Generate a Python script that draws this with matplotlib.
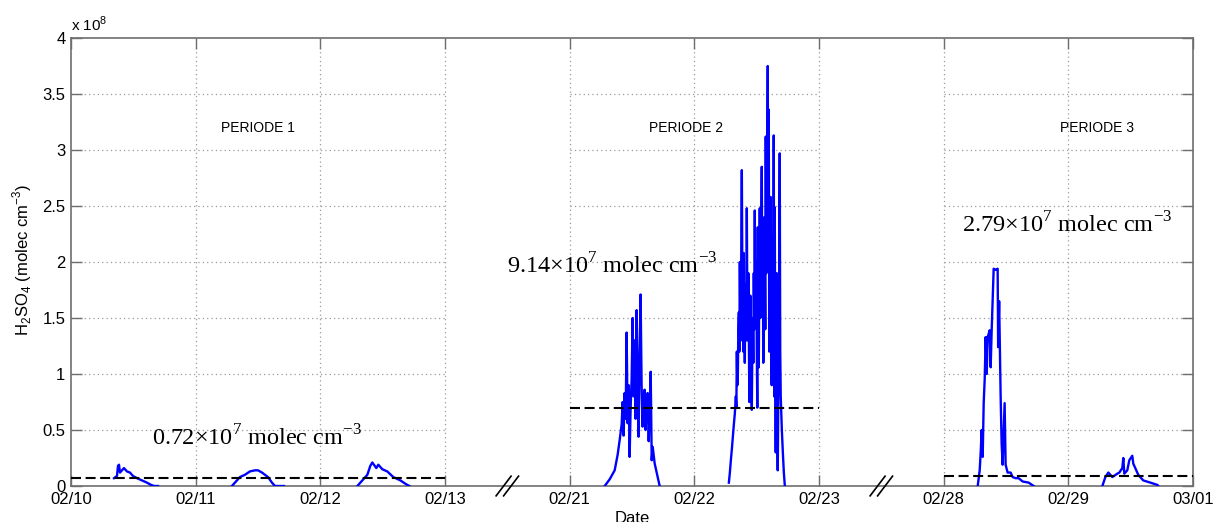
import numpy as np
import matplotlib
matplotlib.use('Agg')
import matplotlib.pyplot as plt

# --- CONFIGURATION ---
OUT_PATH = 'out.png'
BLUE = '#0000ff'
GRID = '#9a9a9a'
AXIS = '#6e6e6e'

plt.rcParams['font.family'] = ['Liberation Sans', 'DejaVu Sans']
plt.rcParams['mathtext.fontset'] = 'custom'
plt.rcParams['mathtext.rm'] = 'Liberation Serif'
plt.rcParams['mathtext.sf'] = 'Liberation Sans'

# compressed date axis: each shown day is one unit, the gaps are cut out
TICK_DATES = ['02/10', '02/11', '02/12', '02/13', '02/21', '02/22', '02/23',
              '02/28', '02/29', '03/01']
BREAKS = [('02/13', '02/21'), ('02/23', '02/28')]
PERIODS = [('02/10', '02/13'), ('02/21', '02/23'), ('02/28', '03/01')]
PERIOD_NAMES = ['PERIODE 1', 'PERIODE 2', 'PERIODE 3']

# mean level drawn per period (1e8 molec cm-3) and the printed value (1e7)
MEAN_LEVEL = [0.075, 0.70, 0.09]
MEAN_TEXT = ['0.72', '9.14', '2.79']

# H2SO4 events: fraction of the day and concentration (1e8 molec cm-3)
d0210_t = [0.345, 0.369, 0.377, 0.385, 0.393, 0.409, 0.425, 0.449, 0.473,
           0.497, 0.529, 0.569, 0.609, 0.642, 0.666, 0.698]
d0210_v = [0.07, 0.09, 0.18, 0.19, 0.12, 0.14, 0.16, 0.13, 0.12,
           0.09, 0.07, 0.05, 0.03, 0.01, 0.0, 0.0]

d0211_t = [0.291, 0.355, 0.395, 0.435, 0.476, 0.500, 0.532, 0.580, 0.612,
           0.636, 0.708]
d0211_v = [0.0, 0.08, 0.10, 0.13, 0.14, 0.14, 0.12, 0.08, 0.03,
           0.0, 0.0]

d0212_t = [0.297, 0.337, 0.377, 0.401, 0.417, 0.449, 0.465, 0.497, 0.537,
           0.585, 0.642, 0.682, 0.714]
d0212_v = [0.0, 0.05, 0.10, 0.18, 0.21, 0.16, 0.19, 0.15, 0.13,
           0.08, 0.05, 0.02, 0.0]

d0221_t = [0.281, 0.321, 0.361, 0.385, 0.401, 0.417, 0.425, 0.433, 0.441,
           0.449, 0.457, 0.465, 0.473, 0.481, 0.489, 0.497, 0.505, 0.513,
           0.521, 0.529, 0.537, 0.545, 0.553, 0.561, 0.569, 0.577, 0.585,
           0.593, 0.601, 0.609, 0.617, 0.625, 0.634, 0.642, 0.650, 0.658,
           0.666, 0.682, 0.698, 0.722]
d0221_v = [0.0, 0.06, 0.14, 0.28, 0.41, 0.55, 0.75, 0.45, 0.83,
           0.60, 1.37, 0.56, 0.90, 0.26, 0.70, 0.95, 1.50, 0.80,
           1.30, 0.60, 1.57, 0.90, 0.44, 1.20, 1.71, 0.90, 0.53,
           0.75, 0.86, 0.50, 0.70, 0.83, 0.40, 0.70, 1.02, 0.23,
           0.35, 0.20, 0.12, 0.0]

d0222_t = [0.277, 0.285, 0.293, 0.301, 0.309, 0.317, 0.325, 0.333, 0.337, 0.341,
           0.345, 0.349, 0.353, 0.357, 0.361, 0.365, 0.369, 0.373, 0.377, 0.381,
           0.385, 0.389, 0.393, 0.397, 0.401, 0.405, 0.409, 0.413, 0.417, 0.421,
           0.425, 0.429, 0.433, 0.437, 0.441, 0.445, 0.449, 0.453, 0.457, 0.461,
           0.465, 0.469, 0.473, 0.477, 0.481, 0.485, 0.489, 0.493, 0.497, 0.501,
           0.505, 0.509, 0.513, 0.517, 0.521, 0.525, 0.529, 0.533, 0.537, 0.541,
           0.545, 0.549, 0.553, 0.557, 0.561, 0.565, 0.569, 0.573, 0.577, 0.581,
           0.585, 0.589, 0.593, 0.597, 0.601, 0.605, 0.609, 0.613, 0.617, 0.621,
           0.625, 0.629, 0.633, 0.637, 0.641, 0.645, 0.649, 0.653, 0.657, 0.661,
           0.665, 0.669, 0.673, 0.677, 0.681, 0.685, 0.689, 0.693, 0.702, 0.710,
           0.718, 0.726]
d0222_v = [0.03, 0.12, 0.23, 0.33, 0.44, 0.55, 0.65, 0.80, 0.70, 1.20,
           0.90, 1.00, 1.40, 1.55, 1.20, 2.00, 1.50, 1.30, 2.20, 2.82,
           1.90, 1.60, 1.20, 2.08, 1.50, 1.10, 1.80, 1.70, 1.30, 2.48,
           1.60, 1.30, 1.90, 1.45, 0.75, 0.90, 1.70, 1.30, 1.00, 0.68,
           1.20, 1.50, 1.10, 1.90, 1.40, 2.46, 1.50, 1.60, 2.00, 1.20,
           0.70, 2.31, 1.40, 1.06, 1.90, 2.48, 1.50, 1.70, 2.30, 2.85,
           1.80, 2.22, 1.10, 1.30, 2.40, 2.00, 1.40, 3.12, 1.90, 2.20,
           2.90, 3.75, 2.00, 3.36, 1.20, 1.50, 2.20, 2.58, 1.00, 0.90,
           1.90, 2.22, 1.30, 3.13, 0.80, 2.49, 1.20, 0.30, 1.50, 1.90,
           0.50, 0.14, 0.70, 1.20, 2.00, 2.97, 1.20, 0.80, 0.50, 0.30,
           0.12, 0.00]

d0228_t = [0.273, 0.289, 0.297, 0.305, 0.313, 0.321, 0.329, 0.337, 0.345,
           0.353, 0.369, 0.377, 0.385, 0.393, 0.401, 0.417, 0.433, 0.437,
           0.445, 0.457, 0.465, 0.473, 0.489, 0.497, 0.513, 0.537, 0.553,
           0.577, 0.601, 0.634, 0.682, 0.722]
d0228_v = [0.0, 0.14, 0.30, 0.50, 0.26, 0.74, 0.95, 1.33, 1.00,
           1.33, 1.39, 1.06, 1.39, 1.66, 1.94, 1.93, 1.94, 1.24,
           1.65, 0.80, 0.38, 0.19, 0.74, 0.19, 0.12, 0.12, 0.08,
           0.07, 0.07, 0.04, 0.03, 0.0]

d0229_t = [0.273, 0.297, 0.321, 0.353, 0.393, 0.409, 0.433, 0.441, 0.449,
           0.473, 0.489, 0.513, 0.521, 0.537, 0.561, 0.601, 0.658, 0.714,
           0.722]
d0229_v = [0.0, 0.08, 0.12, 0.08, 0.11, 0.12, 0.16, 0.25, 0.11,
           0.14, 0.23, 0.27, 0.20, 0.16, 0.10, 0.05, 0.03, 0.01,
           0.0]

EVENTS = [('02/10', d0210_t, d0210_v), ('02/11', d0211_t, d0211_v),
          ('02/12', d0212_t, d0212_v), ('02/21', d0221_t, d0221_v),
          ('02/22', d0222_t, d0222_v), ('02/28', d0228_t, d0228_v),
          ('02/29', d0229_t, d0229_v)]

Y_TICKS = [0, 0.5, 1, 1.5, 2, 2.5, 3, 3.5, 4]


def day_pos(day):
    """Position of a date on the compressed axis."""
    return TICK_DATES.index(day)


def main():
    fig = plt.figure(figsize=(12.14, 5.22), dpi=100)
    ax = fig.add_axes([71 / 1214, 36 / 522, 1122 / 1214, 448 / 522])

    # grid, drawn per period so the cut-out gaps stay empty
    for start, end in PERIODS:
        s, e = day_pos(start), day_pos(end)
        for yv in Y_TICKS[1:-1]:
            ax.plot([s, e], [yv, yv], color=GRID, lw=0.9,
                    ls=(0, (1, 2.5)), zorder=1)
    for i in range(1, len(TICK_DATES) - 1):
        ax.plot([i, i], [0, 4], color=GRID, lw=0.9, ls=(0, (1, 2.5)), zorder=1)

    # measurements
    for day, t, v in EVENTS:
        x = day_pos(day) + np.array(t)
        ax.plot(x, v, color=BLUE, lw=1.7, zorder=3)

    # period means
    for (start, end), lvl in zip(PERIODS, MEAN_LEVEL):
        ax.plot([day_pos(start), day_pos(end)], [lvl, lvl], color='black',
                lw=1.5, ls='--', dashes=(4.8, 2.2), zorder=4)

    # period titles and mean values
    name_pos = [1.5, 4.93, 8.23]
    for name, xp in zip(PERIOD_NAMES, name_pos):
        ax.text(xp, 3.2, name, ha='center', va='center', fontsize=10)
    text_pos = [(0.65, 0.43), (3.50, 1.97), (7.15, 2.33)]
    for txt, (xp, yp) in zip(MEAN_TEXT, text_pos):
        ax.text(xp, yp, txt + '×10$^{7}$ molec cm$^{-3}$',
                family=['Liberation Serif', 'DejaVu Serif'],
                ha='left', va='center', fontsize=17.5, zorder=5)

    # axis breaks
    for a, b in BREAKS:
        xm = (day_pos(a) + day_pos(b)) / 2
        for off in (-0.03, 0.03):
            ax.plot([xm + off - 0.06, xm + off + 0.06], [-0.022, 0.022],
                    transform=ax.get_xaxis_transform(), color='black',
                    lw=1.2, clip_on=False, zorder=6)

    ax.set_xlim(0, len(TICK_DATES) - 1)
    ax.set_ylim(0, 4)
    ax.set_xticks(range(len(TICK_DATES)))
    ax.set_xticklabels(TICK_DATES)
    ax.set_yticks(Y_TICKS)
    ax.set_yticklabels(['%g' % y for y in Y_TICKS])
    ax.tick_params(direction='in', length=8, width=1, color=AXIS,
                   top=True, right=True, labelsize=12, pad=4)
    for sp in ax.spines.values():
        sp.set_color(AXIS)
        sp.set_linewidth(1.2)

    ax.text(0.0, 1.008, r'x 10$^{\mathsf{8}}$', transform=ax.transAxes,
            ha='left', va='bottom', fontsize=11)
    fig.text(632 / 1214, 11 / 522, 'Date', ha='center', va='top', fontsize=12)
    fig.text(22 / 1214, 262 / 522,
             r'H$_{\mathsf{2}}$SO$_{\mathsf{4}}$ (molec cm$^{\mathsf{-3}}$)',
             rotation=90, ha='center', va='center', fontsize=12)

    fig.savefig(OUT_PATH, dpi=100)


if __name__ == "__main__":
    main()
